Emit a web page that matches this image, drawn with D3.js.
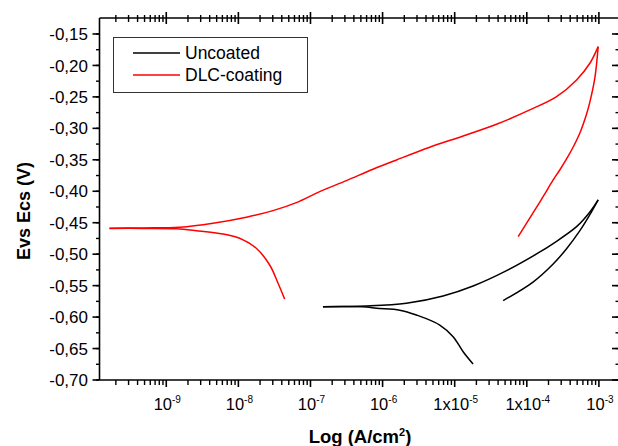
<!DOCTYPE html>
<html>
<head>
<meta charset="utf-8">
<script src="https://cdn.jsdelivr.net/npm/d3@7"></script>
<style>
  html, body { margin: 0; padding: 0; background: #fff; }
  svg { display: block; }
  text { font-family: "Liberation Sans", Arial, sans-serif; fill: #000; }
</style>
</head>
<body>
<svg id="chart" width="618" height="446"></svg>
<script>
// Potentiodynamic polarisation curves: [current density (A/cm²), potential (V)]
const uncoatedCathodic = [
  [1.49e-7, -0.5835], [5.97e-7, -0.5840], [8.20e-7, -0.5860], [1.73e-6, -0.5890],
  [2.95e-6, -0.5967], [6.21e-6, -0.6126], [9.51e-6, -0.6312], [1.31e-5, -0.6550],
  [1.80e-5, -0.6746]
];
const uncoatedAnodic = [
  [1.49e-7, -0.5835], [5.97e-7, -0.5824], [2.14e-6, -0.5781], [6.90e-6, -0.5665],
  [1.80e-5, -0.5506], [5.24e-5, -0.5262], [1.52e-4, -0.4965], [2.32e-4, -0.4831],
  [4.90e-4, -0.4563], [7.50e-4, -0.4329], [9.77e-4, -0.4138]
];
const uncoatedReturn = [
  [9.77e-4, -0.4138], [7.50e-4, -0.4372], [5.45e-4, -0.4626], [3.56e-4, -0.4913],
  [2.32e-4, -0.5157], [1.22e-4, -0.5444], [4.70e-5, -0.5739]
];
const dlcCathodic = [
  [4.38e-8, -0.5712], [3.54e-8, -0.5458], [2.72e-8, -0.5172], [1.77e-8, -0.4906],
  [1.04e-8, -0.4747], [6.11e-9, -0.4679], [2.61e-9, -0.4626], [1.38e-9, -0.4596],
  [4.73e-10, -0.4590], [1.63e-10, -0.4590]
];
const dlcAnodic = [
  [1.63e-10, -0.4588], [4.73e-10, -0.4583], [1.53e-9, -0.4572], [4.44e-9, -0.4509],
  [1.29e-8, -0.4413], [3.02e-8, -0.4308], [6.37e-8, -0.4181], [1.34e-7, -0.4006],
  [3.15e-7, -0.3831], [7.36e-7, -0.3650], [1.56e-6, -0.3502], [4.51e-6, -0.3300],
  [1.31e-5, -0.3121], [3.80e-5, -0.2935], [1.10e-4, -0.2707], [2.59e-4, -0.2496],
  [4.90e-4, -0.2230], [7.50e-4, -0.1965], [9.77e-4, -0.1701]
];
const dlcReturn = [
  [9.77e-4, -0.1701], [8.79e-4, -0.2199], [7.50e-4, -0.2580], [6.75e-4, -0.2771],
  [5.45e-4, -0.3073], [4.40e-4, -0.3296], [3.56e-4, -0.3486], [2.88e-4, -0.3658],
  [2.32e-4, -0.3820], [1.69e-4, -0.4083], [1.22e-4, -0.4345], [7.59e-5, -0.4722]
];

const seriesNames = ["Uncoated", "DLC-coating"];
const seriesColors = ["#000000", "#ff0000"];

const xMajorTicks = [1e-9, 1e-8, 1e-7, 1e-6, 1e-5, 1e-4, 1e-3];
const xTickBase = ["10", "10", "10", "10", "1x10", "1x10", "10"];
const xTickExp = ["-9", "-8", "-7", "-6", "-5", "-4", "-3"];
const yMajorTicks = [-0.70, -0.65, -0.60, -0.55, -0.50, -0.45, -0.40, -0.35, -0.30, -0.25, -0.20, -0.15];

const xDomain = [1.186e-10, 1.9e-3];
const yDomain = [-0.70, -0.1246];

const svg = d3.select("#chart");
const plotLeft = 99.5, plotRight = 619, plotTop = 18, plotBottom = 380;

const x = d3.scaleLog().domain(xDomain).range([plotLeft, plotRight]);
const y = d3.scaleLinear().domain(yDomain).range([plotBottom, plotTop]);

// minor ticks: 2..9 within each decade that falls inside the domain
const xMinor = [];
for (let e = -10; e <= -3; e++) {
  for (let m = 2; m <= 9; m++) {
    const v = m * Math.pow(10, e);
    if (v > xDomain[0] && v < xDomain[1]) xMinor.push(v);
  }
}
const yMinor = d3.range(0, 23).map(i => -0.70 + i * 0.025).filter(v => v < yDomain[1]);

const axisColor = "#000";
const g = svg.append("g");

// curves
const line = d3.line()
  .x(d => x(d[0]))
  .y(d => y(d[1]))
  .curve(d3.curveCatmullRom.alpha(0.5));

const curves = [
  { data: uncoatedCathodic, s: 0 }, { data: uncoatedAnodic, s: 0 }, { data: uncoatedReturn, s: 0 },
  { data: dlcCathodic, s: 1 }, { data: dlcAnodic, s: 1 }, { data: dlcReturn, s: 1 }
];
g.selectAll("path.curve").data(curves).join("path")
  .attr("class", "curve")
  .attr("d", d => line(d.data))
  .attr("fill", "none")
  .attr("stroke", d => seriesColors[d.s])
  .attr("stroke-width", 1.5)
  .attr("stroke-linejoin", "round");

// bottom axis
const bottomAxis = svg.append("g");
bottomAxis.append("line").attr("x1", plotLeft).attr("x2", plotRight).attr("y1", plotBottom).attr("y2", plotBottom)
  .attr("stroke", axisColor).attr("stroke-width", 1.6);
bottomAxis.selectAll("line.minor").data(xMinor).join("line").attr("class", "minor")
  .attr("x1", d => x(d)).attr("x2", d => x(d)).attr("y1", plotBottom).attr("y2", plotBottom + 5)
  .attr("stroke", axisColor).attr("stroke-width", 1.4);
bottomAxis.selectAll("line.major").data(xMajorTicks).join("line").attr("class", "major")
  .attr("x1", d => x(d)).attr("x2", d => x(d)).attr("y1", plotBottom).attr("y2", plotBottom + 7)
  .attr("stroke", axisColor).attr("stroke-width", 1.6);
const xl = bottomAxis.selectAll("text.tl").data(xMajorTicks).join("text").attr("class", "tl")
  .attr("x", d => x(d) + 1).attr("y", 410)
  .attr("text-anchor", "middle")
  .style("font-size", "16.5px");
xl.append("tspan").text((d, i) => xTickBase[i]);
xl.append("tspan").attr("dy", -7).style("font-size", "10px").text((d, i) => xTickExp[i]);

// top axis (ticks straddle the line)
const topAxis = svg.append("g");
topAxis.append("line").attr("x1", plotLeft).attr("x2", plotRight).attr("y1", plotTop).attr("y2", plotTop)
  .attr("stroke", axisColor).attr("stroke-width", 1.6);
topAxis.selectAll("line.minor").data(xMinor).join("line").attr("class", "minor")
  .attr("x1", d => x(d)).attr("x2", d => x(d)).attr("y1", plotTop - 3).attr("y2", plotTop + 4)
  .attr("stroke", axisColor).attr("stroke-width", 1.4);
topAxis.selectAll("line.major").data(xMajorTicks).join("line").attr("class", "major")
  .attr("x1", d => x(d)).attr("x2", d => x(d)).attr("y1", plotTop - 6).attr("y2", plotTop + 6)
  .attr("stroke", axisColor).attr("stroke-width", 1.6);

// left axis
const leftAxis = svg.append("g");
leftAxis.append("line").attr("x1", plotLeft).attr("x2", plotLeft).attr("y1", plotTop).attr("y2", plotBottom)
  .attr("stroke", axisColor).attr("stroke-width", 1.6);
leftAxis.selectAll("line.minor").data(yMinor).join("line").attr("class", "minor")
  .attr("x1", plotLeft - 3.5).attr("x2", plotLeft).attr("y1", d => y(d)).attr("y2", d => y(d))
  .attr("stroke", axisColor).attr("stroke-width", 1.4);
leftAxis.selectAll("line.major").data(yMajorTicks).join("line").attr("class", "major")
  .attr("x1", plotLeft - 7).attr("x2", plotLeft).attr("y1", d => y(d)).attr("y2", d => y(d))
  .attr("stroke", axisColor).attr("stroke-width", 1.6);
const fmtY = d => d3.format(".2f")(d).replace("−", "-").replace(".", ",");
leftAxis.selectAll("text.tl").data(yMajorTicks).join("text").attr("class", "tl")
  .attr("x", 88).attr("y", d => y(d)).attr("dy", "0.36em")
  .attr("text-anchor", "end")
  .style("font-size", "17px")
  .text(fmtY);

// right axis (ticks inward)
const rightAxis = svg.append("g");
rightAxis.append("line").attr("x1", plotRight).attr("x2", plotRight).attr("y1", plotTop).attr("y2", plotBottom)
  .attr("stroke", axisColor).attr("stroke-width", 1.6);
rightAxis.selectAll("line.minor").data(yMinor).join("line").attr("class", "minor")
  .attr("x1", plotRight - 3.5).attr("x2", plotRight).attr("y1", d => y(d)).attr("y2", d => y(d))
  .attr("stroke", axisColor).attr("stroke-width", 1.4);
rightAxis.selectAll("line.major").data(yMajorTicks).join("line").attr("class", "major")
  .attr("x1", plotRight - 7).attr("x2", plotRight).attr("y1", d => y(d)).attr("y2", d => y(d))
  .attr("stroke", axisColor).attr("stroke-width", 1.6);

// axis titles
const xTitle = svg.append("text")
  .attr("x", 360).attr("y", 443)
  .attr("text-anchor", "middle")
  .style("font-size", "18.5px").style("font-weight", "bold");
xTitle.append("tspan").text("Log (A/cm");
xTitle.append("tspan").attr("dy", -7).style("font-size", "11px").text("2");
xTitle.append("tspan").attr("dy", 7).text(")");

svg.append("text")
  .attr("transform", "translate(30,211) rotate(-90)")
  .attr("text-anchor", "middle")
  .style("font-size", "18px").style("font-weight", "bold")
  .text("Evs Ecs (V)");

// legend
const legend = svg.append("g");
legend.append("rect")
  .attr("x", 113.5).attr("y", 37.5).attr("width", 194).attr("height", 55)
  .attr("fill", "#fff").attr("stroke", "#333").attr("stroke-width", 1);
const items = legend.selectAll("g.item").data(seriesNames).join("g").attr("class", "item")
  .attr("transform", (d, i) => `translate(0,${53 + i * 22})`);
items.append("line").attr("x1", 133).attr("x2", 180).attr("y1", 0).attr("y2", 0)
  .attr("stroke", (d, i) => seriesColors[i]).attr("stroke-width", 1.5);
items.append("text").attr("x", 185).attr("y", 0).attr("dy", "0.36em")
  .style("font-size", "17.5px")
  .text(d => d);
</script>
</body>
</html>
